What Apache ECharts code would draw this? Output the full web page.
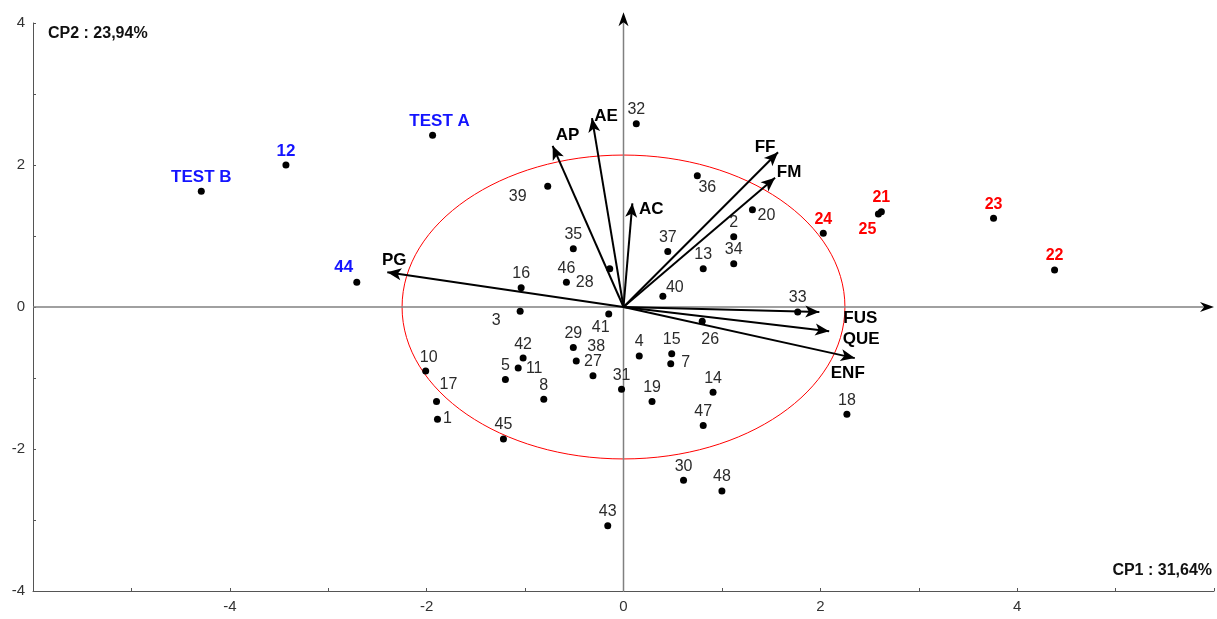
<!DOCTYPE html>
<html>
<head>
<meta charset="utf-8">
<title>ACP - CP1 / CP2</title>
<script src="https://cdn.jsdelivr.net/npm/echarts@6/dist/echarts.min.js"></script>
<style>
    html, body { margin: 0; padding: 0; background: #fff; }
    #chart_acp { width: 1217px; height: 619px; }
</style>
</head>
<body>
<div id="chart_acp"></div>
<script>
// individus (scores sur CP1 / CP2)
var obsNames = ['TEST B','12','TEST A','44','21','25','24','23','22',
    '1','2','3','4','5','7','8','10','11','13','14','15','16','17','18','19','20',
    '26','27','28','29','30','31','32','33','34','35','36','37','38','39','40',
    '41','42','43','45','46','47','48'];
var obsX = [-4.29,-3.43,-1.94,-2.71,2.62,2.59,2.03,3.76,4.38,
    -1.89,1.12,-1.05,0.16,-1.20,0.48,-0.81,-2.01,-1.07,0.81,0.91,0.49,-1.04,-1.90,2.27,0.29,1.31,
    0.80,-0.31,-0.14,-0.51,0.61,-0.02,0.13,1.77,1.12,-0.51,0.75,0.45,-0.48,-0.77,0.40,
    -0.15,-1.02,-0.16,-1.22,-0.58,0.81,1.00];
var obsY = [1.63,2.00,2.42,0.35,1.34,1.31,1.04,1.25,0.52,
    -1.58,0.99,-0.06,-0.69,-1.02,-0.80,-1.30,-0.90,-0.86,0.54,-1.20,-0.66,0.27,-1.33,-1.51,-1.33,1.37,
    -0.20,-0.97,0.54,-0.57,-2.44,-1.16,2.58,-0.07,0.61,0.82,1.85,0.78,-0.76,1.70,0.15,
    -0.10,-0.72,-3.08,-1.86,0.35,-1.67,-2.59];
var blueNames = ['TEST B','12','TEST A','44'];
var redNames = ['21','25','24','23','22'];

// variables (fleches)
var varNames = ['PG','AP','AE','AC','FF','FM','FUS','QUE','ENF'];
var varX = [-2.40,-0.72,-0.32,0.09,1.57,1.54,1.99,2.09,2.35];
var varY = [0.49,2.27,2.66,1.46,2.18,1.82,-0.07,-0.34,-0.72];

// axes
var xTicks = [-4,-2,0,2,4];
var yTicks = [-4,-2,0,2,4];
var cp1Title = 'CP1 : 31,64%';
var cp2Title = 'CP2 : 23,94%';
var circleRadius = [2.25, 2.14];
var hAxisEnds = [[-6, 0], [6, 0]];
var vAxisEnds = [[0, -4], [0, 4.15]];

// decalage des etiquettes (px), defaut au-dessus du point
var obsLabelOffset = {
    'TEST A':[7,-14], '44':[-13,-15], '25':[-11,16],
    '39':[-30,10], '28':[-25,14], '3':[-24,9], '40':[12,-9], '41':[-8,13],
    '10':[3,-13], '17':[12,-17], '1':[10,-1], '11':[16,1], '38':[20,-14],
    '7':[15,-1], '26':[8,18], '36':[10,12], '20':[14,6]
};
var varLabelOffset = {
    'PG':[7,-12], 'AP':[15,-11], 'AE':[14,-2], 'AC':[19,6], 'FF':[-13,-5],
    'FM':[14,-5], 'FUS':[41,6], 'QUE':[32,8], 'ENF':[-7,15]
};

var Echarts = echarts.init(document.getElementById('chart_acp'));

var obsData = obsNames.map(function (n, i) {
    var col = '#2b2b2b', bold = 'normal', fs = 16;
    if (blueNames.indexOf(n) >= 0) { col = '#1414ff'; bold = 'bold'; fs = 17; }
    if (redNames.indexOf(n) >= 0) { col = '#ff0000'; bold = 'bold'; }
    return {
        name: n,
        value: [obsX[i], obsY[i]],
        label: {
            color: col,
            fontWeight: bold,
            fontSize: fs,
            offset: obsLabelOffset[n] || [0, -14]
        }
    };
});

var vecLines = varNames.map(function (n, i) {
    return [{ coord: [0, 0] }, { coord: [varX[i], varY[i]] }];
});

var varData = varNames.map(function (n, i) {
    return { name: n, value: [varX[i], varY[i]], label: { offset: varLabelOffset[n] } };
});

// tete de fleche (pointe en p1)
function arrowHead(p0, p1, len, half) {
    var dx = p1[0] - p0[0], dy = p1[1] - p0[1];
    var d = Math.sqrt(dx * dx + dy * dy) || 1;
    var ux = dx / d, uy = dy / d;
    var bx = p1[0] - ux * len, by = p1[1] - uy * len;
    var nx = p1[0] - ux * len * 0.7, ny = p1[1] - uy * len * 0.7;
    return [p1, [bx - uy * half, by + ux * half], [nx, ny], [bx + uy * half, by - ux * half]];
}

var option = {
    animation: false,
    grid: { left: 33, right: 2, top: 23, bottom: 28 },
    xAxis: {
        type: 'value', min: -6, max: 6, interval: 1,
        axisLine: { onZero: false, lineStyle: { color: '#555', width: 1 } },
        axisTick: { inside: true, length: 3, lineStyle: { color: '#555' } },
        axisLabel: {
            color: '#333', fontSize: 15, fontFamily: 'Liberation Sans', margin: 8,
            formatter: function (v) { return xTicks.indexOf(v) >= 0 ? String(v) : ''; }
        },
        splitLine: { show: false }
    },
    yAxis: {
        type: 'value', min: -4, max: 4, interval: 1,
        axisLine: { onZero: false, lineStyle: { color: '#555', width: 1 } },
        axisTick: { inside: true, length: 3, lineStyle: { color: '#555' } },
        axisLabel: {
            color: '#333', fontSize: 15, fontFamily: 'Liberation Sans', margin: 8,
            formatter: function (v) { return yTicks.indexOf(v) >= 0 ? String(v) : ''; }
        },
        splitLine: { show: false }
    },
    graphic: [
        { type: 'text', left: 48, top: 26,
          style: { text: cp2Title, font: 'bold 16px "Liberation Sans"', fill: '#111' } },
        { type: 'text', right: 5, top: 563,
          style: { text: cp1Title, font: 'bold 16px "Liberation Sans"', fill: '#111' } }
    ],
    series: [
        //cercle
        {
            type: 'custom',
            z: 1,
            silent: true,
            clip: false,
            data: [[0, 0]],
            renderItem: function (params, api) {
                var c = api.coord([0, 0]);
                var sz = api.size([circleRadius[0], circleRadius[1]]);
                return {
                    type: 'ellipse',
                    shape: { cx: c[0], cy: c[1], rx: sz[0], ry: sz[1] },
                    style: { fill: 'none', stroke: '#ff0000', lineWidth: 1 }
                };
            }
        },
        //axes centraux
        {
            type: 'custom',
            z: 1,
            silent: true,
            clip: false,
            data: [[0, 0]],
            renderItem: function (params, api) {
                var h0 = api.coord(hAxisEnds[0]), h1 = api.coord(hAxisEnds[1]);
                var v0 = api.coord(vAxisEnds[0]), v1 = api.coord(vAxisEnds[1]);
                var st = { stroke: '#808080', lineWidth: 1.5 };
                return {
                    type: 'group',
                    children: [
                        { type: 'line', shape: { x1: h0[0], y1: h0[1], x2: h1[0] - 6, y2: h1[1] }, style: st },
                        { type: 'line', shape: { x1: v0[0], y1: v0[1], x2: v1[0], y2: v1[1] + 6 }, style: st },
                        { type: 'polygon', shape: { points: arrowHead(h0, h1, 14, 5) }, style: { fill: '#000' } },
                        { type: 'polygon', shape: { points: arrowHead(v0, v1, 14, 5) }, style: { fill: '#000' } }
                    ]
                };
            }
        },
        //fleches des variables
        {
            type: 'scatter',
            z: 2,
            data: [],
            markLine: {
                silent: true,
                animation: false,
                symbol: ['none', 'arrow'],
                symbolSize: [9, 14],
                label: { show: false },
                lineStyle: { color: '#000', width: 2, type: 'solid', opacity: 1 },
                data: vecLines
            }
        },
        //noms des variables
        {
            type: 'scatter',
            z: 4,
            symbolSize: 1,
            itemStyle: { color: 'rgba(0,0,0,0)', opacity: 1 },
            label: {
                show: true, position: 'inside',
                formatter: '{b}',
                color: '#000', fontWeight: 'bold', fontSize: 17, fontFamily: 'Liberation Sans',
                textBorderWidth: 0
            },
            data: varData
        },
        //individus
        {
            type: 'scatter',
            z: 3,
            symbol: 'circle',
            symbolSize: 7,
            itemStyle: { color: '#000', opacity: 1 },
            label: {
                show: true, position: 'inside',
                formatter: '{b}',
                fontSize: 16, fontFamily: 'Liberation Sans',
                textBorderWidth: 0
            },
            data: obsData
        }
    ]
};
Echarts.setOption(option);
</script>
</body>
</html>
